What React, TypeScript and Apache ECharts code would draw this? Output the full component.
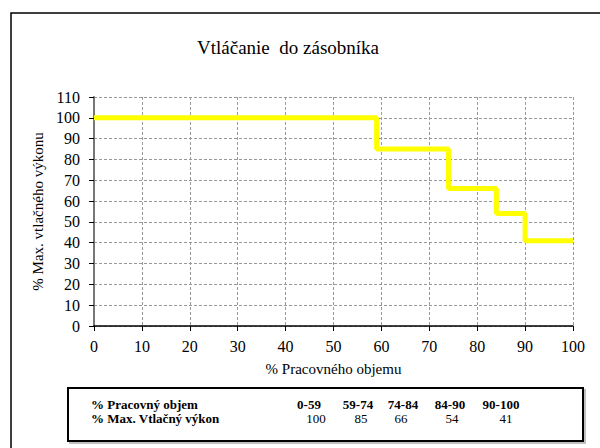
import React, { useEffect, useRef } from "react";
import * as echarts from "echarts";

const titleText = "Vtláčanie  do zásobníka";
const xAxisName = "% Pracovného objemu";
const yAxisName = "% Max. vtlačného výkonu";
const breakpoints = [0, 59, 74, 84, 90, 100];
const values = [100, 85, 66, 54, 41];
const rangeLabels = ["0-59", "59-74", "74-84", "84-90", "90-100"];
const rowLabels = ["% Pracovný objem", "% Max. Vtlačný výkon"];
const colCenters = [309, 358, 403, 450, 501];
const valCenters = [316, 361, 401, 452, 506];

const FONT = "Liberation Serif";

export default function App() {
  const ref = useRef<HTMLDivElement>(null);
  useEffect(() => {
    if (!ref.current) return;
    const chart = echarts.init(ref.current, null, { renderer: "svg" });
    const data: number[][] = breakpoints.map((b, i) => [b, values[Math.min(i, values.length - 1)]]);

    const txt = (x: number, y: number, text: string, bold: boolean, align: string) => ({
      type: "text",
      x,
      y,
      style: {
        text,
        fontFamily: FONT,
        fontSize: 13,
        fontWeight: bold ? "bold" : "normal",
        fill: "#000",
        align,
        verticalAlign: "middle",
      },
    });

    const graphics: any[] = [
      {
        type: "rect",
        shape: { x: 11, y: 13, width: 620, height: 460 },
        style: { fill: "none", stroke: "#000", lineWidth: 1.5 },
        silent: true,
      },
      {
        type: "rect",
        shape: { x: 70, y: 390, width: 515, height: 53 },
        style: { fill: "none", stroke: "#c0c0c0", lineWidth: 2 },
        silent: true,
      },
      {
        type: "rect",
        shape: { x: 68, y: 388, width: 515, height: 53 },
        style: { fill: "#fff", stroke: "#000", lineWidth: 2 },
        silent: true,
      },
      txt(91, 404, rowLabels[0], true, "left"),
      txt(91, 418, rowLabels[1], true, "left"),
    ];
    rangeLabels.forEach((r, i) => {
      graphics.push(txt(colCenters[i], 404, r, true, "center"));
      graphics.push(txt(valCenters[i], 418, String(values[i]), false, "center"));
    });

    chart.setOption({
      animation: false,
      backgroundColor: "#fff",
      textStyle: { fontFamily: FONT },
      title: {
        text: titleText,
        left: 283,
        top: 33,
        textAlign: "center",
        textStyle: { fontFamily: FONT, fontSize: 19, fontWeight: "normal", color: "#000" },
      },
      grid: { left: 94, right: 27, top: 97, bottom: 122, containLabel: false },
      xAxis: {
        type: "value",
        min: 0,
        max: 100,
        interval: 10,
        name: xAxisName,
        nameLocation: "middle",
        nameGap: 35,
        nameTextStyle: { fontFamily: FONT, fontSize: 15, color: "#000" },
        axisLine: { show: true, lineStyle: { color: "#000", width: 1.5 } },
        axisTick: { show: true, length: 5, lineStyle: { color: "#000" } },
        axisLabel: { fontFamily: FONT, fontSize: 16, color: "#000", margin: 12 },
        splitLine: { show: true, lineStyle: { color: "#999", type: [3, 2], width: 1 } },
      },
      yAxis: {
        type: "value",
        min: 0,
        max: 110,
        interval: 10,
        name: yAxisName,
        nameLocation: "middle",
        nameRotate: 90,
        nameGap: 48,
        nameTextStyle: { fontFamily: FONT, fontSize: 15, color: "#000" },
        axisLine: { show: true, lineStyle: { color: "#777", width: 2 } },
        axisTick: { show: true, length: 5, lineStyle: { color: "#000" } },
        axisLabel: { fontFamily: FONT, fontSize: 16, color: "#000", margin: 14 },
        splitLine: { show: true, lineStyle: { color: "#999", type: [3, 2], width: 1 } },
      },
      series: [
        {
          type: "line",
          step: "end",
          data,
          symbol: "none",
          lineStyle: { color: "#ffff00", width: 5 },
          z: 5,
        },
      ],
      graphic: graphics,
    });
    return () => chart.dispose();
  }, []);
  return (
    <div
      ref={ref}
      style={{ position: "fixed", left: 0, top: 0, width: 600, height: 448 }}
    />
  );
}
